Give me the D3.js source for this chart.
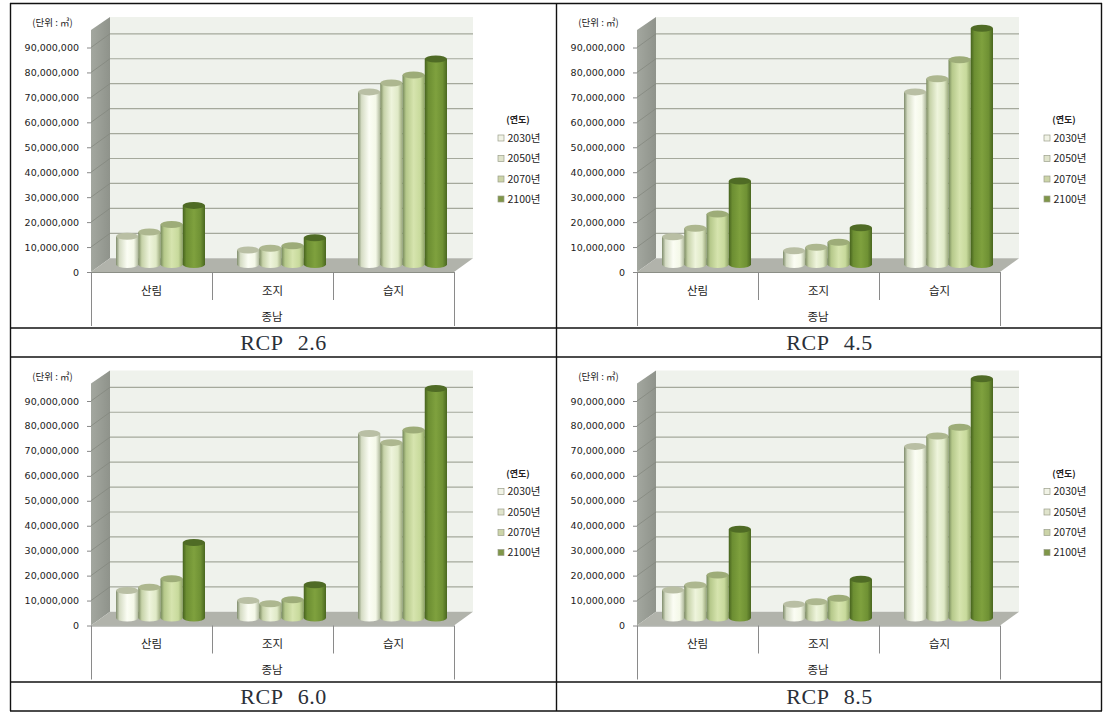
<!DOCTYPE html>
<html><head><meta charset="utf-8">
<script src="https://cdn.jsdelivr.net/npm/d3@7"></script>
<style>
html,body{margin:0;background:#fff}
svg{display:block}
text{font-family:"Noto Sans CJK KR","Noto Sans",sans-serif;fill:#222}
</style></head><body><div id="c"></div>
<script>
const categories = ["산림","조지","습지"];
const years = ["2030년","2050년","2070년","2100년"];
const tickValues = [0,1e7,2e7,3e7,4e7,5e7,6e7,7e7,8e7,9e7];
const groupLabel = "종남";
const unitLabel = "(단위 : ㎥)";
const legendTitle = "(연도)";
const titles = ["RCP 2.6","RCP 4.5","RCP 6.0","RCP 8.5"];
const rcp26 = [[11.3,13,16,23.7],[5.8,6.5,7.5,10.7],[69.2,72.8,76,82.4]];
const rcp45 = [[11.1,14.5,20.2,33.5],[5.5,6.9,8.9,14.7],[69.2,74.5,82.1,94.7]];
const rcp60 = [[11,12.3,15.7,30.3],[7,5.7,7.3,13.3],[74,70.3,75.4,92]];
const rcp85 = [[11.2,13.2,17.2,35.6],[5.5,6.5,7.9,15.5],[68.8,73,76.5,95.9]];
const panels = [rcp26,rcp45,rcp60,rcp85];
const barStops = [
 ["#7f8c6c","#d5dcc4","#fbfdf4","#f4f8e8","#aeb89a"],
 ["#7b8a60","#c6d2a8","#eef4dc","#dfe9c6","#9aa87a"],
 ["#74875a","#b5c88a","#d6e4ae","#c8da9c","#8da264"],
 ["#46621e","#6c8e32","#7fa13e","#6f9134","#4a6720"]];
const topColors = ["#b9bfa4","#adb78f","#9dac78","#4f6b25"];
const legendColors = ["#f1f3e6","#e0e4cc","#ccd4a8","#7f9648"];

const svg = d3.select("#c").append("svg").attr("width",1116).attr("height",724);
const defs = svg.append("defs");
barStops.forEach((st,i)=>{
  const g = defs.append("linearGradient").attr("id","bar"+i);
  st.forEach((c,j)=>g.append("stop").attr("offset",[0,.16,.5,.8,1][j]).attr("stop-color",c));
});
const sw = defs.append("linearGradient").attr("id","side");
sw.append("stop").attr("offset",0).attr("stop-color","#a3a79f");
sw.append("stop").attr("offset",1).attr("stop-color","#8f938b");

const hLines=[3.5,328,357,682,711], vLines=[10.5,556.5,1101.5];
svg.selectAll(".h").data(hLines).join("line").attr("x1",10).attr("x2",1102).attr("y1",d=>d).attr("y2",d=>d).attr("stroke","#111").attr("stroke-width",1.4);
svg.selectAll(".v").data(vLines).join("line").attr("x1",d=>d).attr("x2",d=>d).attr("y1",3).attr("y2",711).attr("stroke","#111").attr("stroke-width",1.4);

const offs=[[0,0],[546,0],[0,353.5],[546,353.5]];
const y = d3.scaleLinear().domain([0,9e7]).range([272,47.5]);
const x0 = d3.scaleBand().domain(categories).range([91,454]);
const x1 = d3.scaleBand().domain(years).range([25,114]);
const depthX=19, depthY=-13.7, barDY=-7.5;

panels.forEach((data,p)=>{
  const g = svg.append("g").attr("transform",`translate(${offs[p]})`);
  const y0=y(0), yT=17;
  g.append("path").attr("d",`M${91+depthX},${yT}H${454+depthX}V${y0+depthY}H${91+depthX}Z`).attr("fill","#eff2ec");
  g.append("path").attr("d",`M91,${yT+13}L${91+depthX},${yT}V${y0+depthY}L91,${y0}Z`).attr("fill","url(#side)");
  g.append("path").attr("d",`M91,${y0}L${91+depthX},${y0+depthY}H${454+depthX}L454,${y0}Z`).attr("fill","#b1b3ab");
  const t = tickValues.slice(1);
  g.selectAll(".g").data(t).join("line").attr("x1",91+depthX).attr("x2",454+depthX)
    .attr("y1",d=>y(d)+depthY).attr("y2",d=>y(d)+depthY).attr("stroke","#a5a99c").attr("stroke-width",1.2);
  g.selectAll(".s").data(t).join("line").attr("x1",91).attr("x2",91+depthX)
    .attr("y1",d=>y(d)).attr("y2",d=>y(d)+depthY).attr("stroke","#84887f").attr("stroke-width",.8);
  g.append("line").attr("x1",91).attr("x2",454).attr("y1",y0+.5).attr("y2",y0+.5).attr("stroke","#8b8e86");
  const ax = g.append("g").attr("transform","translate(91,0)")
    .call(d3.axisLeft(y).tickValues(tickValues).tickSize(4).tickPadding(8).tickFormat(d3.format(",")));
  ax.select(".domain").attr("stroke","none");
  ax.selectAll(".tick line").attr("stroke","#888");
  ax.selectAll("text").style("font-size","9.5px").style("font-family","'DejaVu Sans',sans-serif").attr("fill","#222");
  const seps=[91,212,333,454];
  g.selectAll(".sep").data(seps).join("line").attr("x1",d=>d+.5).attr("x2",d=>d+.5).attr("y1",y0)
    .attr("y2",(d,i)=>(i==0||i==3)?326:300).attr("stroke","#8a8a8a");
  g.selectAll(".cat").data(categories).join("text").attr("x",d=>x0(d)+x0.bandwidth()/2).attr("y",290.5)
    .attr("dy",".35em").attr("text-anchor","middle").style("font-size","11.5px").text(d=>d);
  g.append("text").attr("x",272).attr("y",316.5).attr("dy",".35em").attr("text-anchor","middle").style("font-size","11.5px").text(groupLabel);
  g.append("text").attr("x",52.5).attr("y",23).attr("dy",".35em").attr("text-anchor","middle").style("font-size","9.5px").text(unitLabel);
  categories.forEach((c,ci)=>{
    years.forEach((yr,si)=>{
      const v=data[ci][si]*1e6, bx=x0(c)+x1(yr), w=x1.bandwidth(), top=y(v)+barDY, base=y0+barDY, rx=w/2, ry=3.5;
      g.append("path").attr("d",`M${bx},${top}V${base}A${rx},${ry} 0 0 0 ${bx+w},${base}V${top}Z`).attr("fill",`url(#bar${si})`);
      g.append("ellipse").attr("cx",bx+rx).attr("cy",top).attr("rx",rx).attr("ry",ry).attr("fill",topColors[si]);
    });
  });
  const lx = 497, ly=[138,158.5,179,199];
  g.append("text").attr("x",518).attr("y",120).attr("dy",".35em").attr("text-anchor","middle").style("font-size","9px").style("font-weight","bold").text(legendTitle);
  years.forEach((yr,i)=>{
    g.append("rect").attr("x",lx+1).attr("y",ly[i]-3).attr("width",6).attr("height",6).attr("fill",legendColors[i]).attr("stroke","#9a9e8a").attr("stroke-width",.7);
    g.append("text").attr("x",lx+10.5).attr("y",ly[i]).attr("dy",".35em").style("font-size","10.5px").text(yr);
  });
  g.append("text").attr("x",283.5).attr("y",342.5).attr("dy",".35em").attr("text-anchor","middle")
    .style("font-family","'Liberation Serif',serif").style("font-size","22px").style("letter-spacing","0.5px").style("word-spacing","9px").style("fill","#2a2f38").text(titles[p]);
});
</script></body></html>
